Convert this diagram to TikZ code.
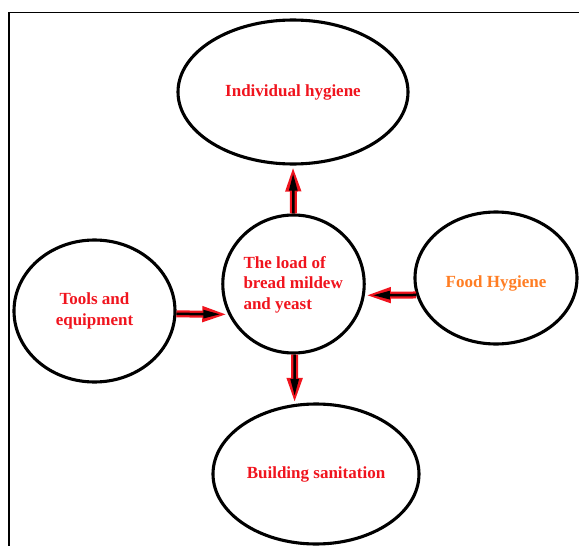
\documentclass[tikz,border=0pt]{standalone}
\usepackage{fontspec}
\setmainfont{Liberation Serif}
\usetikzlibrary{shapes.geometric,arrows.meta}
\definecolor{txtred}{RGB}{240,20,30}
\definecolor{txtorange}{RGB}{255,125,35}
\begin{document}
\begin{tikzpicture}[x=1pt,y=-1pt,
 blob/.style={ellipse,draw=black,line width=3.1pt,inner sep=0pt,font=\bfseries\fontsize{17}{20.5}\selectfont,text=txtred},
 outerarrow/.style={draw=txtred,line width=7pt,-{Triangle[length=26pt,width=14pt]}},
 innerarrow/.style={draw=black,line width=2.5pt,-{Triangle[length=17pt,width=8pt]},shorten >=8pt}]
\useasboundingbox (0,0) rectangle (579,546);
\draw[line width=1.3pt] (9,12.5) rectangle (640,600);
\node[blob,minimum width=230pt,minimum height=144pt] (hyg) at (293,92) {Individual hygiene};
\node[blob,minimum width=138pt,minimum height=138pt,align=left] (load) at (293.5,284) {\raisebox{-5pt}[0pt][0pt]{\parbox{100pt}{\raggedright The load of\\bread mildew\\and yeast}}};
\node[blob,minimum width=161pt,minimum height=142pt,align=center] (tools) at (94.5,311) {Tools and\\equipment};
\node[blob,minimum width=162pt,minimum height=132pt,text=txtorange] (food) at (496,278) {\raisebox{-5pt}[12pt][4pt]{Food Hygiene}};
\node[blob,minimum width=206pt,minimum height=140pt] (build) at (316,474) {Building sanitation};
\draw[outerarrow] (load.90) -- (hyg.270);
\draw[innerarrow] (load.90) -- (hyg.270);
\draw[outerarrow] (food.192) -- (load.-9);
\draw[innerarrow] (food.192) -- (load.-9);
\draw[outerarrow] (tools.-2) -- (load.205);
\draw[innerarrow] (tools.-2) -- (load.205);
\draw[outerarrow] (load.-89) -- (build.107);
\draw[innerarrow] (load.-89) -- (build.107);
\end{tikzpicture}
\end{document}
